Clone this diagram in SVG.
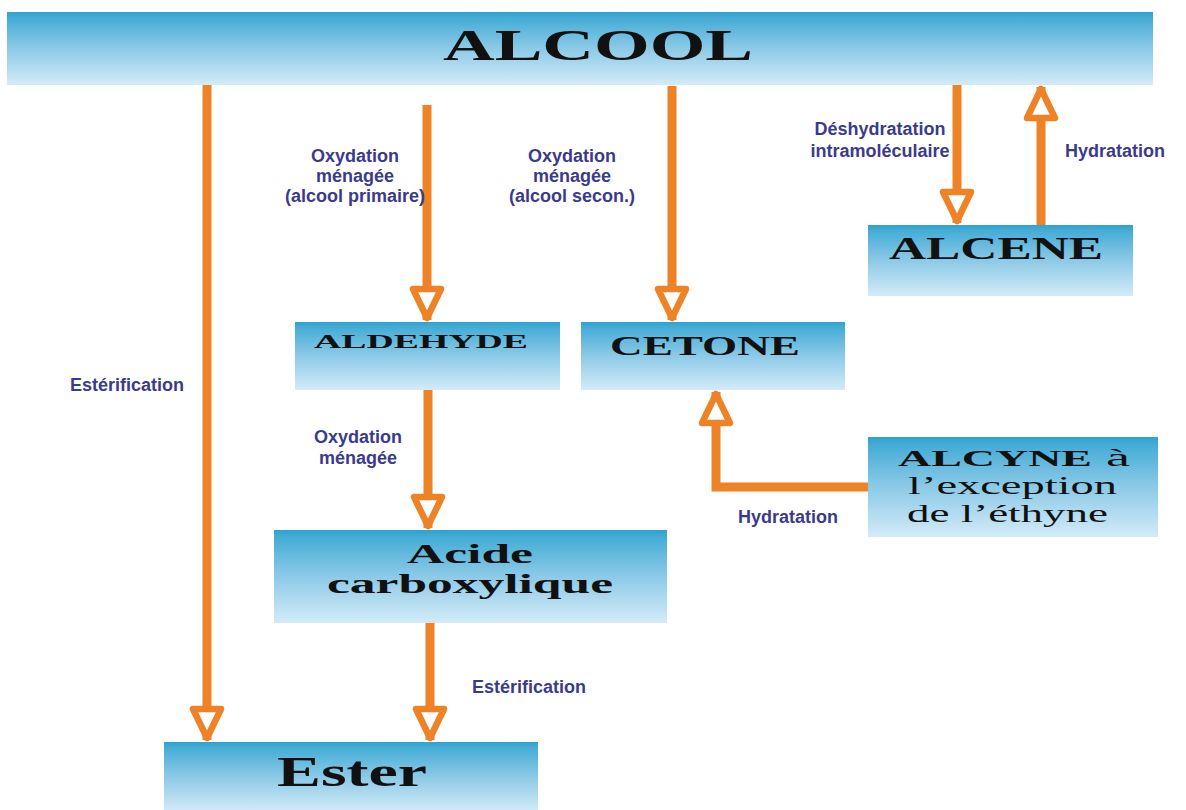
<svg xmlns="http://www.w3.org/2000/svg" width="1186" height="810" viewBox="0 0 1186 810">
<style>
.box{fill:url(#g);}
.nt{font-family:"Liberation Serif","Times New Roman",serif;font-weight:bold;fill:#111;}
.nr{font-family:"Liberation Serif","Times New Roman",serif;font-weight:normal;fill:#111;}
.lb{font-family:"Liberation Sans",Arial,sans-serif;font-weight:bold;font-size:18px;fill:#3b3b8e;text-anchor:middle;}
.c{fill:none;stroke:#ee8226;stroke-width:9;marker-end:url(#ah);}
</style>
<defs>
<linearGradient id="g" x1="0" y1="0" x2="0" y2="1">
<stop offset="0" stop-color="#2fa2cf"/>
<stop offset="0.08" stop-color="#45acd6"/>
<stop offset="0.5" stop-color="#8ccae7"/>
<stop offset="1" stop-color="#d3ebf8"/>
</linearGradient>
<marker id="ah" markerUnits="userSpaceOnUse" markerWidth="48" markerHeight="48" viewBox="-40 -24 48 48" refX="0" refY="0" orient="auto">
<path d="M-31,-14 L-2,0 L-31,14 Z" fill="#fff" stroke="#ee8226" stroke-width="6.5" stroke-linejoin="round"/>
</marker>
</defs>
<rect width="1186" height="810" fill="#fff"/>

<g id="alcool"><rect class="box" x="7" y="12" width="1146" height="73"/><text class="nt" x="443" y="60" font-size="45" textLength="310" lengthAdjust="spacingAndGlyphs">ALCOOL</text></g>
<g id="aldehyde"><rect class="box" x="295" y="322" width="265" height="68"/><text class="nt" x="314" y="348" font-size="19" textLength="214" lengthAdjust="spacingAndGlyphs">ALDEHYDE</text></g>
<g id="cetone"><rect class="box" x="581" y="322" width="264" height="68"/><text class="nt" x="610" y="355" font-size="28" textLength="190" lengthAdjust="spacingAndGlyphs">CETONE</text></g>
<g id="alcene"><rect class="box" x="868" y="225" width="265" height="71"/><text class="nt" x="889" y="259" font-size="31" textLength="214" lengthAdjust="spacingAndGlyphs">ALCENE</text></g>
<g id="alcyne"><rect class="box" x="868" y="437" width="290" height="100"/>
<text class="nt" x="898" y="466" font-size="23" textLength="194" lengthAdjust="spacingAndGlyphs">ALCYNE</text>
<text class="nr" x="1106" y="466" font-size="25" textLength="24" lengthAdjust="spacingAndGlyphs">à</text>
<text class="nr" x="908" y="494" font-size="26" textLength="209" lengthAdjust="spacingAndGlyphs">l’exception</text>
<text class="nr" x="907" y="522" font-size="26" textLength="201" lengthAdjust="spacingAndGlyphs">de l’éthyne</text></g>
<g id="acide"><rect class="box" x="274" y="530" width="393" height="93"/>
<text class="nt" x="407" y="563" font-size="27" textLength="126" lengthAdjust="spacingAndGlyphs">Acide</text>
<text class="nt" x="327" y="593" font-size="27" textLength="286" lengthAdjust="spacingAndGlyphs">carboxylique</text></g>
<g id="ester"><rect class="box" x="164" y="742" width="374" height="70"/><text class="nt" x="277" y="786" font-size="42" textLength="150" lengthAdjust="spacingAndGlyphs">Ester</text></g>

<g id="connectors">
<path class="c" d="M207,85 V740"/>
<path class="c" d="M427,105 V320"/>
<path class="c" d="M672,86 V320"/>
<path class="c" d="M957,85 V223"/>
<path class="c" d="M1041,225 V87"/>
<path class="c" d="M428,390 V528"/>
<path class="c" d="M430,623 V740"/>
<path class="c" d="M868,487 H716 V392"/>
</g>

<g id="labels">
<text class="lb" x="127" y="391">Estérification</text>
<text class="lb" x="355" y="162">Oxydation</text>
<text class="lb" x="355" y="182">ménagée</text>
<text class="lb" x="355" y="202">(alcool primaire)</text>
<text class="lb" x="572" y="162">Oxydation</text>
<text class="lb" x="572" y="182">ménagée</text>
<text class="lb" x="572" y="202">(alcool secon.)</text>
<text class="lb" x="880" y="135">Déshydratation</text>
<text class="lb" x="880" y="157">intramoléculaire</text>
<text class="lb" x="1115" y="157">Hydratation</text>
<text class="lb" x="358" y="443">Oxydation</text>
<text class="lb" x="358" y="464">ménagée</text>
<text class="lb" x="529" y="693">Estérification</text>
<text class="lb" x="788" y="523">Hydratation</text>
</g>
</svg>
